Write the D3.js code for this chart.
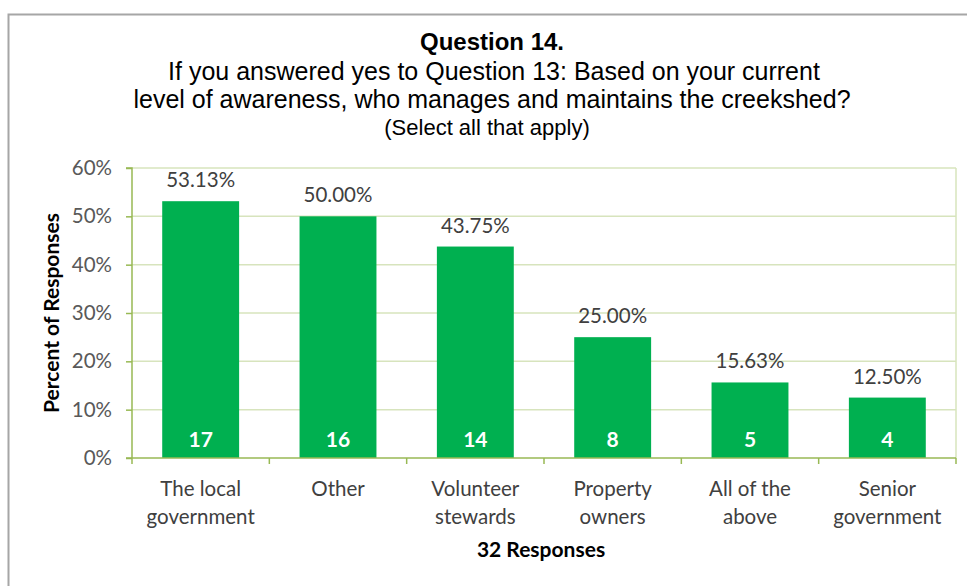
<!DOCTYPE html>
<html><head><meta charset="utf-8">
<script src="https://cdn.jsdelivr.net/npm/d3@7"></script>
<style>body{margin:0;background:#fff}svg{display:block}</style>
</head><body>
<svg id="c" width="967" height="586"></svg>
<script>
const categories = [["The local","government"],["Other"],["Volunteer","stewards"],["Property","owners"],["All of the","above"],["Senior","government"]];
const percents = [53.13, 50.00, 43.75, 25.00, 15.63, 12.50];
const counts = [17, 16, 14, 8, 5, 4];
const yTicks = [0,10,20,30,40,50,60];
const titleLines = ["Question 14.","If you answered yes to Question 13: Based on your current","level of awareness, who manages and maintains the creekshed?","(Select all that apply)"];

const svg = d3.select("#c");
svg.append("rect").attr("x",8.5).attr("y",14.5).attr("width",980).attr("height",600)
  .attr("fill","#fff").attr("stroke","#a6a6a6").attr("stroke-width",2);

const L=132, R=956, T=168, B=458;
const x = d3.scaleBand().domain(d3.range(categories.length)).range([L,R]).paddingInner(0.44).paddingOuter(0.22);
const y = d3.scaleLinear().domain([0,60]).range([B,T]);

const font = "Lato, 'Open Sans', sans-serif";
// gridlines
svg.append("g").selectAll("line").data(yTicks.filter(d=>d>0)).join("line")
  .attr("x1",L).attr("x2",R).attr("y1",d=>y(d)).attr("y2",d=>y(d))
  .attr("stroke","#d7e4bd").attr("stroke-width",1.5);
svg.append("line").attr("x1",R).attr("x2",R).attr("y1",T).attr("y2",B).attr("stroke","#d7e4bd").attr("stroke-width",1.5);

// bars
svg.append("g").selectAll("rect").data(percents).join("rect")
  .attr("x",(d,i)=>x(i)).attr("width",x.bandwidth())
  .attr("y",d=>y(d)).attr("height",d=>B-y(d)).attr("fill","#00b050");

// y axis
const ya = svg.append("g").attr("transform",`translate(${L},0)`)
  .call(d3.axisLeft(y).tickValues(yTicks).tickFormat(d=>d+"%").tickSize(6).tickPadding(14));
ya.select(".domain").attr("stroke","#98b954").attr("stroke-width",1.5).attr("d",`M-6,${T}H0V${B}`);
ya.selectAll(".tick line").attr("stroke","#98b954").attr("stroke-width",1.5);
ya.selectAll(".tick text").attr("font-family",font).attr("font-size",20.5).attr("fill","#595959");

// x axis
const xa = svg.append("g").attr("transform",`translate(0,${B})`);
xa.append("line").attr("x1",L-6).attr("x2",R).attr("stroke","#98b954").attr("stroke-width",1.5);
const bounds = d3.range(categories.length+1).map(i=> i===0?L: (i===categories.length?R: x(i)-x.step()*x.paddingInner()/2));
xa.selectAll("line.tk").data(bounds).join("line").attr("class","tk")
  .attr("x1",d=>d).attr("x2",d=>d).attr("y1",0).attr("y2",6).attr("stroke","#98b954").attr("stroke-width",1.5);

// category labels
const cl = svg.append("g").selectAll("text").data(categories).join("text")
  .attr("text-anchor","middle").attr("font-family",font).attr("font-size",20.5).attr("fill","#404040");
cl.each(function(d,i){
  const t=d3.select(this);
  d.forEach((s,j)=>t.append("tspan").attr("x",x(i)+x.bandwidth()/2).attr("y",496+j*28).text(s));
});

// value labels
svg.append("g").selectAll("text").data(percents).join("text")
  .attr("x",(d,i)=>x(i)+x.bandwidth()/2).attr("y",d=>y(d)-14)
  .attr("text-anchor","middle").attr("font-family",font).attr("font-size",20.5).attr("fill","#404040")
  .text(d=>d.toFixed(2)+"%");
svg.append("g").selectAll("text").data(counts).join("text")
  .attr("x",(d,i)=>x(i)+x.bandwidth()/2).attr("y",B-11)
  .attr("text-anchor","middle").attr("font-family",font).attr("font-size",21).attr("font-weight","bold").attr("fill","#fff")
  .text(d=>d);

// titles
const tf = "'Liberation Sans', Arial, sans-serif";
svg.append("text").attr("x",492).attr("y",50).attr("text-anchor","middle").attr("font-family",tf).attr("font-weight","bold").attr("font-size",24).attr("fill","#000").text(titleLines[0]);
svg.append("text").attr("x",494).attr("y",80).attr("text-anchor","middle").attr("font-family",tf).attr("font-size",25).attr("fill","#000").text(titleLines[1]);
svg.append("text").attr("x",492).attr("y",108).attr("text-anchor","middle").attr("font-family",tf).attr("font-size",25).attr("fill","#000").text(titleLines[2]);
svg.append("text").attr("x",487).attr("y",135).attr("text-anchor","middle").attr("font-family",tf).attr("font-size",22).attr("fill","#000").text(titleLines[3]);

svg.append("text").attr("transform",`translate(59,${(T+B)/2}) rotate(-90)`).attr("text-anchor","middle")
  .attr("font-family",font).attr("font-weight","bold").attr("font-size",21).attr("fill","#000").text("Percent of Responses");
svg.append("text").attr("x",541).attr("y",557).attr("text-anchor","middle")
  .attr("font-family",font).attr("font-weight","bold").attr("font-size",21).attr("fill","#000").text("32 Responses");
</script>
</body></html>
